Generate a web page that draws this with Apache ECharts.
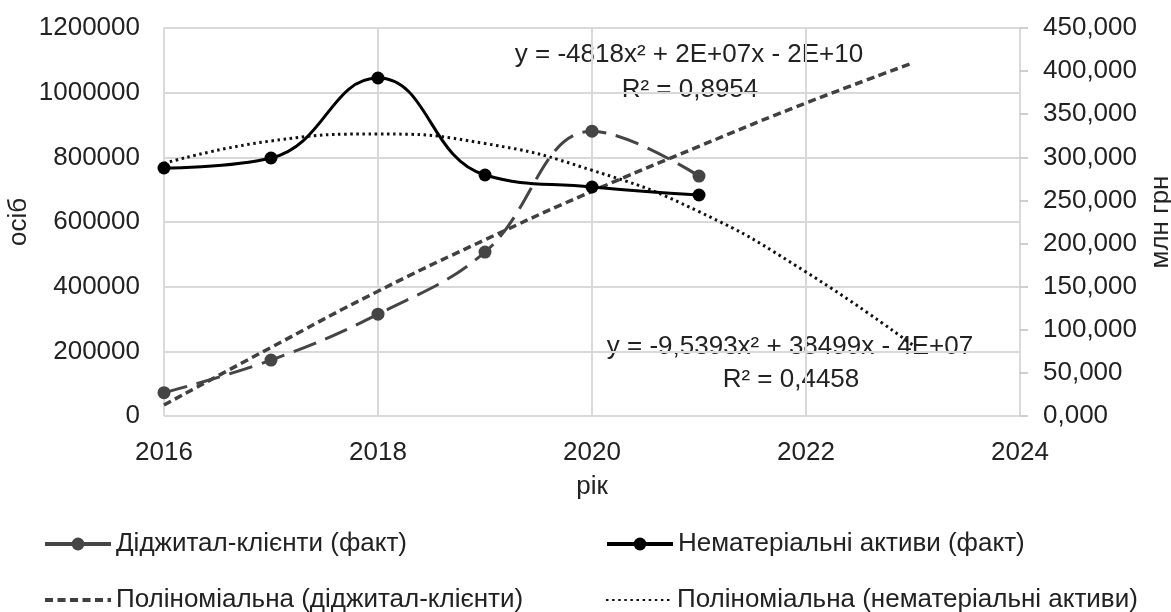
<!DOCTYPE html>
<html>
<head>
<meta charset="utf-8">
<script src="https://cdn.jsdelivr.net/npm/echarts@6/dist/echarts.min.js"></script>
<style>
html,body{margin:0;padding:0;background:#fff;}
#chart{width:1171px;height:612px;}
</style>
</head>
<body>
<div id="chart"></div>
<script>
// ---- data ----
var years = [2016, 2017, 2018, 2019, 2020, 2021];
var digitalClients = [72000, 173000, 315000, 507000, 881000, 742000];      // осіб (left axis)
var intangibleAssets = [287.6, 299.2, 392.0, 279.5, 265.6, 256.3];        // млн грн (right axis)

var trendYears = [2016, 2017, 2018, 2019, 2020, 2021, 2022, 2023];
var digitalTrend = [34000, 212000, 386000, 545000, 695000, 834000, 968000, 1092000];
var intangibleTrend = [293, 319, 327, 316, 285, 237, 167, 82];

var xTicks = {min: 2016, max: 2024, step: 2};
var leftTicks = {min: 0, max: 1200000, step: 200000};
var rightTicks = {min: 0, max: 450, step: 50};

var names = [
  'Діджитал-клієнти (факт)',
  'Нематеріальні активи (факт)',
  'Поліноміальна (діджитал-клієнти)',
  'Поліноміальна (нематеріальні активи)'
];
var eq1 = ['y = -4818x² + 2E+07x - 2E+10', 'R² = 0,8954'];
var eq2 = ['y = -9,5393x² + 38499x - 4E+07', 'R² = 0,4458'];
var axisNames = {x: 'рік', left: 'осіб', right: 'млн грн'};

// ---- build ----
function pairs(xs, ys) { return xs.map(function (x, i) { return [x, ys[i]]; }); }

var FONT = 'Liberation Sans, Arial, sans-serif';
var TXT = '#222222';
var GRID = '#d9d9d9';

function legendAt(name, left, top, extra) {
  var l = {
    data: [name], left: left, top: top, padding: 0,
    itemWidth: 66, itemHeight: 16, itemGap: 0,
    textStyle: {fontSize: 26, color: TXT, fontFamily: FONT}
  };
  if (extra) for (var k in extra) l[k] = extra[k];
  return l;
}

var chart = echarts.init(document.getElementById('chart'), null, {renderer: 'canvas'});
var option = {
  animation: false,
  backgroundColor: '#ffffff',
  grid: {left: 164, right: 151, top: 28, bottom: 196, containLabel: false, outerBoundsMode: 'none'},
  xAxis: {
    type: 'value', min: xTicks.min, max: xTicks.max, interval: xTicks.step,
    name: axisNames.x, nameLocation: 'middle', nameGap: 58, nameMoveOverlap: false,
    nameTextStyle: {fontSize: 26, color: TXT, fontFamily: FONT},
    axisLine: {show: false}, axisTick: {show: false},
    axisLabel: {fontSize: 26, color: TXT, fontFamily: FONT, margin: 24, formatter: function (v) { return String(v); }},
    splitLine: {show: true, lineStyle: {color: GRID, width: 2}}
  },
  yAxis: [{
    type: 'value', min: leftTicks.min, max: leftTicks.max, interval: leftTicks.step, position: 'left',
    name: axisNames.left, nameLocation: 'middle', nameRotate: 90, nameGap: 132, nameMoveOverlap: false,
    nameTextStyle: {fontSize: 26, color: TXT, fontFamily: FONT},
    axisLine: {show: false}, axisTick: {show: false},
    axisLabel: {fontSize: 26, color: TXT, fontFamily: FONT, margin: 24, formatter: function (v) { return String(v); }},
    splitLine: {show: true, lineStyle: {color: GRID, width: 2}}
  }, {
    type: 'value', min: rightTicks.min, max: rightTicks.max, interval: rightTicks.step, position: 'right',
    name: axisNames.right, nameLocation: 'middle', nameRotate: 90, nameGap: 128, nameMoveOverlap: false,
    nameTextStyle: {fontSize: 26, color: TXT, fontFamily: FONT},
    axisLine: {show: false},
    axisTick: {show: true, inside: false, length: 8, lineStyle: {color: '#c0c0c0', width: 1.5}},
    axisLabel: {fontSize: 26, color: TXT, fontFamily: FONT, margin: 23,
      formatter: function (v) { return v.toFixed(3).replace('.', ','); }},
    splitLine: {show: false}
  }],
  legend: [
    legendAt(names[0], 43, 531, {lineStyle: {type: 'solid', width: 4}}),
    legendAt(names[1], 605, 531, {lineStyle: {width: 4}}),
    legendAt(names[2], 43, 587, {itemStyle: {opacity: 0}, lineStyle: {width: 4}}),
    legendAt(names[3], 605, 587, {itemStyle: {opacity: 0}})
  ],
  series: [{
    name: names[2], type: 'line', yAxisIndex: 0, data: pairs(trendYears, digitalTrend),
    smooth: true, symbol: 'none', z: 2,
    lineStyle: {color: '#404040', width: 3.5, type: [8, 4.5]},
    itemStyle: {color: '#404040'}
  }, {
    name: names[3], type: 'line', yAxisIndex: 1, data: pairs(trendYears, intangibleTrend),
    smooth: true, symbol: 'none', z: 2,
    lineStyle: {color: '#111111', width: 3, type: [2.5, 3.6]},
    itemStyle: {color: '#111111'}
  }, {
    name: names[0], type: 'line', yAxisIndex: 0, data: pairs(years, digitalClients),
    smooth: 0.4, symbol: 'circle', symbolSize: 13, z: 3,
    lineStyle: {color: '#454545', width: 3, type: [24, 10]},
    itemStyle: {color: '#454545'}
  }, {
    name: names[1], type: 'line', yAxisIndex: 1, data: pairs(years, intangibleAssets),
    smooth: 0.45, symbol: 'circle', symbolSize: 13, z: 4,
    lineStyle: {color: '#000000', width: 3},
    itemStyle: {color: '#000000'}
  }],
  graphic: [
    {type: 'text', x: 689, y: 55, style: {text: eq1[0], font: '26px ' + FONT, fill: TXT, align: 'center', verticalAlign: 'middle'}},
    {type: 'text', x: 690, y: 90, style: {text: eq1[1], font: '26px ' + FONT, fill: TXT, align: 'center', verticalAlign: 'middle'}},
    {type: 'text', x: 790, y: 347, style: {text: eq2[0], font: '26px ' + FONT, fill: TXT, align: 'center', verticalAlign: 'middle'}},
    {type: 'text', x: 791, y: 380, style: {text: eq2[1], font: '26px ' + FONT, fill: TXT, align: 'center', verticalAlign: 'middle'}}
  ]
};
chart.setOption(option);
</script>
</body>
</html>
